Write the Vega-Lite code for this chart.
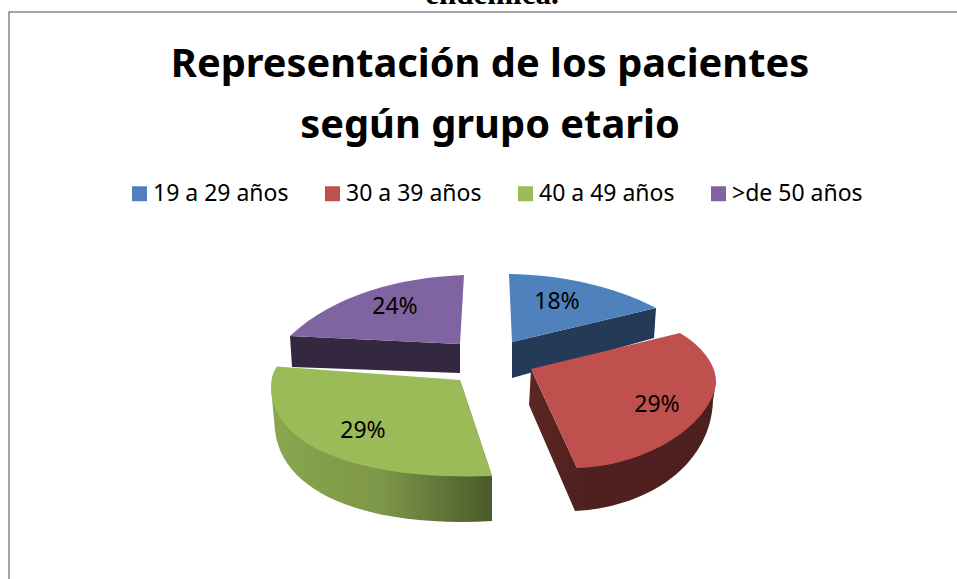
{"$schema":"https://vega.github.io/schema/vega-lite/v6.json","width":950,"height":569,"autosize":{"type":"none"},"padding":{"left":9,"top":12,"right":0,"bottom":0},"background":"white","view":{"stroke":"#868686","strokeWidth":1.5,"fill":"white"},"title":{"text":["Representación de los pacientes","según grupo etario"],"font":"Noto Sans","fontWeight":"bold","fontSize":39.8,"color":"black","lineHeight":61,"anchor":"middle","frame":"group","dx":6,"baseline":"alphabetic","offset":-199},"resolve":{"legend":{"color":"independent"}},"data":{"values":[{"grupo":"19 a 29 años","pct":0.18},{"grupo":"30 a 39 años","pct":0.29},{"grupo":"40 a 49 años","pct":0.29},{"grupo":">de 50 años","pct":0.24}]},"layer":[{"data":{"values":[{"texto":"endémica."}]},"mark":{"type":"text","font":"Liberation Serif","fontWeight":"bold","fontSize":31,"color":"black","baseline":"alphabetic","dx":8,"dy":-292.5},"encoding":{"text":{"field":"texto"}}},{"transform":[{"filter":"datum.grupo === '>de 50 años'"}],"mark":{"type":"point","filled":true,"opacity":1,"size":4,"xOffset":-1,"yOffset":-1,"fill":"#342841","stroke":null,"shape":"M-193,40.5 L-191,71.5 L-23,77.5 L-23,48.5 Z"}},{"transform":[{"filter":"datum.grupo === '19 a 29 años'"}],"mark":{"type":"point","filled":true,"opacity":1,"size":4,"xOffset":-1,"yOffset":-1,"fill":"#243a57","stroke":null,"shape":"M173,12.5 L171,42.5 L29,82.5 L29,46.5 Z"}},{"transform":[{"filter":"datum.grupo === '30 a 39 años'"}],"mark":{"type":"point","filled":true,"opacity":1,"size":4,"xOffset":-1,"yOffset":-1,"fill":{"gradient":"linear","x1":0,"y1":0,"x2":1,"y2":0,"stops":[{"offset":0,"color":"#5c2623"},{"offset":0.3,"color":"#4f201e"},{"offset":1,"color":"#4d1f1e"}]},"stroke":null,"shape":"M48,73.5 L46,109.5 L92,215.5 C165,212 228,170 230,105 L233,86.5 L94,172.5 Z"}},{"transform":[{"filter":"datum.grupo === '40 a 49 años'"}],"mark":{"type":"point","filled":true,"opacity":1,"size":4,"xOffset":-1,"yOffset":-1,"fill":{"gradient":"linear","x1":0,"y1":0,"x2":1,"y2":0,"stops":[{"offset":0,"color":"#8aa64f"},{"offset":0.5,"color":"#7d9748"},{"offset":1,"color":"#4a5a2b"}]},"stroke":null,"shape":"M-212,92.5 L-208,135 C-200,205 -100,232 9,225.5 L9,180.5 L-23,84.5 Z"}},{"mark":{"type":"point","filled":true,"opacity":1,"size":4,"xOffset":-1,"yOffset":-1,"stroke":null},"encoding":{"color":{"field":"grupo","type":"nominal","sort":null,"scale":{"domain":["19 a 29 años","30 a 39 años","40 a 49 años",">de 50 años"],"range":["#4F81BD","#C0504D","#9BBB59","#8064A2"]},"legend":null},"shape":{"field":"grupo","type":"nominal","legend":null,"scale":{"domain":["19 a 29 años","30 a 39 años","40 a 49 años",">de 50 años"],"range":["M26,-21.5 C75,-21 130,-10 173,12.5 L29,46.5 Z","M48,73.5 L197,37.5 C218,50 233,68 233,86.5 C230,125 170,170 94,172.5 Z","M-23,84.5 L-206,71 C-211,78 -212,85 -212,92.5 C-210,155 -115,185 9,180.5 Z","M-23,48.5 L-19,-20.5 C-85,-18 -150,0 -193,40.5 Z"]}}}},{"mark":{"type":"square","size":0,"opacity":1},"encoding":{"color":{"field":"grupo","type":"nominal","sort":null,"scale":{"domain":["19 a 29 años","30 a 39 años","40 a 49 años",">de 50 años"],"range":["#4F81BD","#C0504D","#9BBB59","#8064A2"]},"legend":{"title":null,"orient":"none","legendX":119,"legendY":170,"direction":"horizontal","columns":4,"symbolType":"square","symbolSize":225,"symbolStrokeWidth":0,"labelFont":"Noto Sans","labelFontSize":23,"labelColor":"black","labelOffset":2,"columnPadding":32,"labelLimit":300}}}},{"transform":[{"filter":"datum.grupo === '19 a 29 años'"}],"mark":{"type":"text","font":"Noto Sans","fontSize":23,"color":"black","baseline":"middle","dx":73,"dy":5},"encoding":{"text":{"field":"pct","type":"quantitative","format":".0%"}}},{"transform":[{"filter":"datum.grupo === '30 a 39 años'"}],"mark":{"type":"text","font":"Noto Sans","fontSize":23,"color":"black","baseline":"middle","dx":173,"dy":108.5},"encoding":{"text":{"field":"pct","type":"quantitative","format":".0%"}}},{"transform":[{"filter":"datum.grupo === '40 a 49 años'"}],"mark":{"type":"text","font":"Noto Sans","fontSize":23,"color":"black","baseline":"middle","dx":-121,"dy":134.5},"encoding":{"text":{"field":"pct","type":"quantitative","format":".0%"}}},{"transform":[{"filter":"datum.grupo === '>de 50 años'"}],"mark":{"type":"text","font":"Noto Sans","fontSize":23,"color":"black","baseline":"middle","dx":-89,"dy":10.5},"encoding":{"text":{"field":"pct","type":"quantitative","format":".0%"}}}]}
